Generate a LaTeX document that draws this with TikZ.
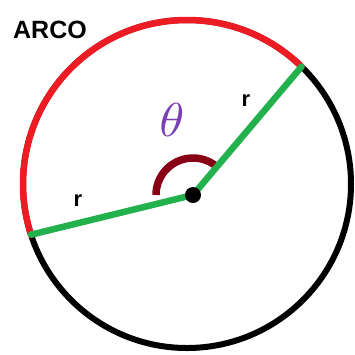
\documentclass[tikz,border=0pt]{standalone}
\usepackage{fontspec}
\setmainfont{Liberation Sans}
\usepackage{graphicx}
\usetikzlibrary{calc}
\definecolor{pred}{HTML}{ED1C24}
\definecolor{pgreen}{HTML}{22B14C}
\definecolor{pdark}{HTML}{880015}
\definecolor{ppurple}{HTML}{7B3FB5}
\begin{document}
\begin{tikzpicture}[x=1pt,y=-1pt,
  rim/.style={line width=6pt,draw=black},
  arcred/.style={line width=6.5pt,draw=pred,line cap=round},
  radius line/.style={line width=6.5pt,draw=pgreen,line cap=round},
  anglemark/.style={line width=7.5pt,draw=pdark},
  lbl/.style={font=\fontsize{22}{22}\selectfont\bfseries,inner sep=0pt}]
\useasboundingbox (0,0) rectangle (355,354);
\fill[white] (0,0) rectangle (355,354);
\coordinate (c) at (187,184);
\coordinate (o) at (193,195);
% circle
\draw[rim] (c) circle[radius=164];
% red arc
\coordinate (pR) at ($(c)+(-45.7:164)$);
\coordinate (pL) at ($(c)+(-198:164)$);
\draw[arcred] (pR) arc[start angle=-45.7,end angle=-198,radius=164];
% angle mark
\draw[anglemark] ($(o)+(-50:37)$) arc[start angle=-50,end angle=-180,radius=37];
% radii
\draw[radius line] (o) -- (pR);
\draw[radius line] (o) -- (pL);
% centre dot
\node[circle,fill=black,minimum size=16pt,inner sep=0pt] (dot) at (o) {};
% labels
\node[font=\fontsize{25}{25}\selectfont\bfseries,inner sep=0pt] (arco) at (50,30) {ARCO};
\node[lbl] (r1) at (246,101) {r};
\node[lbl] (r2) at (78,201) {r};
\node[text=ppurple,inner sep=0pt] (theta) at (172,120) {\resizebox{25pt}{33pt}{$\theta$}};
\end{tikzpicture}
\end{document}
